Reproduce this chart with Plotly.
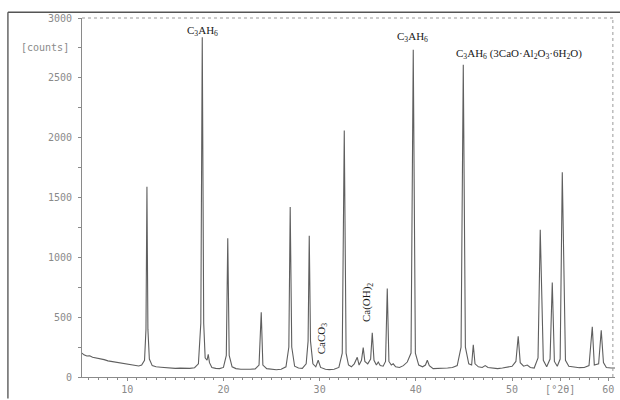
import plotly.graph_objects as go

# Diffraction pattern: 2-theta (degrees) and intensity (counts)
two_theta = [
    5.3, 5.5, 5.8, 6.1, 6.4, 6.8, 7.2, 7.6, 8.0, 8.4, 8.8, 9.2, 9.6, 10.0, 10.4, 10.8, 11.2, 11.5,
    11.8, 11.95, 12.05, 12.15, 12.3, 12.6, 13.0, 13.5, 14.0, 14.5, 15.0, 15.5, 16.0, 16.5, 17.0,
    17.4, 17.65, 17.8, 17.95, 18.1, 18.3, 18.42, 18.55, 18.8, 19.2, 19.6, 20.0, 20.3, 20.45, 20.6,
    20.9, 21.3, 21.8, 22.3, 22.8, 23.3, 23.7, 23.93, 24.1, 24.5, 25.0, 25.5, 26.0, 26.5, 26.8,
    26.94, 27.1, 27.4, 27.8, 28.2, 28.6, 28.8, 28.92, 29.05, 29.3, 29.6, 29.85, 30.1, 30.6, 31.0,
    31.5, 32.0, 32.35, 32.56, 32.75, 33.0, 33.3, 33.6, 33.91, 34.1, 34.35, 34.53, 34.7, 35.0, 35.3,
    35.47, 35.65, 35.9, 36.09, 36.3, 36.6, 36.85, 37.03, 37.2, 37.45, 37.65, 37.9, 38.3, 38.7,
    39.11, 39.5, 39.73, 39.95, 40.3, 40.7, 41.0, 41.19, 41.4, 41.8, 42.3, 42.8, 43.3, 43.8, 44.3,
    44.7, 44.93, 45.15, 45.5, 45.8, 45.97, 46.15, 46.5, 46.9, 47.21, 47.5, 48.0, 48.5, 49.0, 49.5,
    50.0, 50.4, 50.64, 50.85, 51.2, 51.58, 51.9, 52.3, 52.7, 52.93, 53.05, 53.25, 53.6, 53.95,
    54.18, 54.4, 54.7, 55.0, 55.22, 55.35, 55.55, 55.9, 56.5, 57.0, 57.5, 58.0, 58.34, 58.55,
    59.0, 59.27, 59.5, 59.8, 60.3, 60.7,
]
counts = [
    200, 185, 175, 178, 165, 160, 150, 145, 135, 130, 120, 118, 110, 105, 100, 95, 92, 100,
    140, 400, 1590, 400, 150, 95, 85, 82, 78, 75, 72, 74, 70, 72, 78,
    110, 450, 2840, 450, 160, 140, 190, 120, 80, 72, 70, 80, 180, 1160, 180,
    85, 70, 65, 62, 65, 68, 100, 540, 100, 70, 62, 60, 65, 85, 250,
    1420, 250, 90, 75, 72, 110, 300, 1180, 300, 110, 85, 140, 80, 65, 62,
    65, 80, 200, 2060, 200, 100, 85, 110, 165, 100, 140, 245, 130, 110, 150,
    370, 140, 100, 125, 95, 90, 130, 740, 130, 100, 110, 85, 80, 95,
    125, 200, 2735, 200, 100, 85, 100, 140, 95, 70, 72, 68, 75, 80, 95,
    250, 2610, 250, 110, 100, 270, 110, 85, 80, 95, 80, 72, 70, 75, 80,
    90, 130, 340, 120, 90, 100, 80, 75, 160, 1230, 870, 140, 85, 150,
    790, 130, 90, 150, 1710, 1175, 140, 90, 80, 78, 80, 95, 420, 100,
    110, 390, 120, 80, 75, 75,
]

y_tickvals = [0, 500, 1000, 1500, 2000, 2500, 3000]
y_ticktext = ["0", "500", "1000", "1500", "2000", "2500", "3000"]
x_tickvals = [10, 20, 30, 40, 50, 55, 60]
x_ticktext = ["10", "20", "30", "40", "50", "[°2θ]", "60"]

phase_labels = ["C<sub>3</sub>AH<sub>6</sub>", "C<sub>3</sub>AH<sub>6</sub>",
                "C<sub>3</sub>AH<sub>6</sub> (3CaO·Al<sub>2</sub>O<sub>3</sub>·6H<sub>2</sub>O)",
                "CaCO<sub>3</sub>", "Ca(OH)<sub>2</sub>"]
label_x = [17.8, 39.6, 43.95, 30.2, 34.95]
label_y = [2890, 2840, 2700, 320, 620]
label_angle = [0, 0, 0, -90, -90]
label_anchor = ["center", "center", "left", "center", "center"]

AX = "#8a8a8a"
mono = dict(family="DejaVu Sans Mono", size=10, color="#8a8a8a")

fig = go.Figure()
fig.add_trace(go.Scatter(x=two_theta, y=counts, mode="lines",
                         line=dict(color="#5f5f5f", width=1.1), hoverinfo="skip"))

for t, x, y, a, anc in zip(phase_labels, label_x, label_y, label_angle, label_anchor):
    fig.add_annotation(x=x, y=y, text=t, showarrow=False, textangle=a, xanchor=anc,
                       font=dict(family="Liberation Serif", size=11, color="#1a1a1a"))

fig.add_annotation(x=-0.02, xref="paper", y=2750, yref="y", text="[counts]",
                   showarrow=False, xanchor="right", font=mono)

# scanned frame and dotted plot border
fig.add_shape(type="line", xref="paper", yref="paper", x0=-0.139, x1=-0.139, y0=1.016, y1=-0.06,
              line=dict(color="#666", width=1.5))
fig.add_shape(type="line", xref="paper", yref="paper", x0=-0.139, x1=1.02, y0=1.016, y1=1.016,
              line=dict(color="#555", width=1.5))
fig.add_shape(type="line", xref="paper", yref="paper", x0=0, x1=1, y0=1.0, y1=1.0,
              line=dict(color="#999", width=1, dash="dot"))
fig.add_shape(type="line", xref="paper", yref="paper", x0=0.996, x1=0.996, y0=0, y1=1.0,
              line=dict(color="#999", width=1, dash="dot"))

fig.update_layout(
    width=620, height=400,
    margin=dict(l=82, r=5, t=18, b=17),
    paper_bgcolor="white", plot_bgcolor="white",
    showlegend=False,
    xaxis=dict(range=[5.3, 60.7], tickvals=x_tickvals, ticktext=x_ticktext,
               ticks="outside", ticklen=3, tickcolor=AX, showgrid=False, zeroline=False,
               showline=True, linecolor=AX, linewidth=1, tickfont=mono,
               minor=dict(dtick=1, ticks="outside", ticklen=2, tickcolor=AX)),
    yaxis=dict(range=[0, 3000], tickvals=y_tickvals, ticktext=y_ticktext,
               ticks="outside", ticklen=3, tickcolor=AX, showgrid=False, zeroline=False,
               showline=True, linecolor=AX, linewidth=1, tickfont=mono,
               ticklabelstandoff=4,
               minor=dict(dtick=250, ticks="outside", ticklen=3, tickcolor=AX)),
)

fig.write_html("out.html")
